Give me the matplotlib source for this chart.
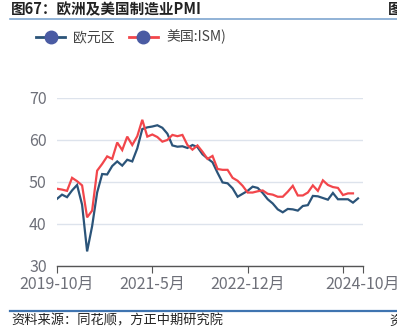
import matplotlib
matplotlib.use('Agg')
import matplotlib.pyplot as plt
from matplotlib.lines import Line2D

plt.rcParams['font.family'] = ['Noto Sans CJK SC', 'DejaVu Sans']

# Monthly PMI, 2019-10 onward
euro = [45.9, 46.9, 46.3, 47.9, 49.2, 44.5, 33.4, 39.4, 47.4, 51.8, 51.7, 53.7,
        54.8, 53.8, 55.2, 54.8, 57.9, 62.5, 62.9, 63.1, 63.4, 62.8, 61.4, 58.6,
        58.3, 58.4, 58.0, 58.7, 58.2, 56.5, 55.5, 54.6, 52.1, 49.8, 49.6, 48.4,
        46.4, 47.1, 47.8, 48.8, 48.5, 47.3, 45.8, 44.8, 43.4, 42.7, 43.5, 43.4,
        43.1, 44.2, 44.4, 46.6, 46.5, 46.1, 45.7, 47.3, 45.8, 45.8, 45.8, 45.0,
        46.0]
ism = [48.3, 48.1, 47.8, 50.9, 50.1, 49.1, 41.5, 43.1, 52.6, 54.2, 56.0, 55.4,
       59.3, 57.5, 60.7, 58.7, 60.8, 64.7, 60.7, 61.2, 60.6, 59.5, 59.9, 61.1,
       60.8, 61.1, 58.7, 57.6, 58.6, 57.1, 55.4, 56.1, 53.0, 52.8, 52.8, 50.9,
       50.2, 49.0, 47.4, 47.4, 47.7, 47.9, 47.1, 46.9, 46.4, 46.4, 47.6, 49.0,
       46.7, 46.7, 47.4, 49.1, 47.8, 50.3, 49.2, 48.7, 48.5, 46.8, 47.2, 47.2]
n_months = 62
tick_pos = [0, 19, 38, 57, 61]
tick_labels = ['2019-10月', '2021-5月', '2022-12月', '', '2024-10月']
yticks = [30, 40, 50, 60, 70]

blue = '#2b5479'
red = '#f2464b'
marker_c = '#4a5ba3'
gray = '#6e7079'

fig = plt.figure(figsize=(3.97, 3.32), dpi=100)
ax = fig.add_axes([0.1436, 0.1997, 0.9144 - 0.1436, 0.7063 - 0.1997])

ax.plot(range(len(euro)), euro, color=blue, lw=1.6, solid_joinstyle='miter')
ax.plot(range(len(ism)), ism, color=red, lw=1.6, solid_joinstyle='miter')

ax.set_xlim(0, n_months - 1)
ax.set_ylim(30, 70)
ax.set_yticks(yticks)
ax.set_xticks(tick_pos)
ax.set_xticklabels(tick_labels)
ax.grid(axis='y', color='#dde3ec', lw=1)
ax.set_axisbelow(True)
for s in ['top', 'right', 'left']:
    ax.spines[s].set_visible(False)
ax.spines['bottom'].set_color('#555555')
ax.spines['bottom'].set_linewidth(1)
ax.tick_params(axis='y', length=0, labelsize=11.5, labelcolor=gray, pad=7.4)
ax.tick_params(axis='x', length=5, color='#555555', labelsize=11.5,
               labelcolor=gray, pad=2.5)

# legend
handles = [Line2D([], [], color=blue, lw=2, marker='o', ms=9,
                  markerfacecolor=marker_c, markeredgecolor=marker_c),
           Line2D([], [], color=red, lw=2, marker='o', ms=9,
                  markerfacecolor=marker_c, markeredgecolor=marker_c)]
fig.legend(handles, ['欧元区', '美国:ISM)'], loc='center left',
           bbox_to_anchor=(0.0907, 0.888), ncol=2, frameon=False,
           fontsize=10, labelcolor='#444444', handlelength=2.1,
           columnspacing=1.0, handletextpad=0.58, borderpad=0,
           borderaxespad=0)

# header / footer
fig.text(0.028, 0.973, '图67：欧洲及美国制造业PMI', fontsize=10.5, fontweight='bold',
         color='#222222', va='center', ha='left')
fig.text(0.978, 0.973, '图', fontsize=10.5, fontweight='bold', color='#222222',
         va='center', ha='left')
fig.add_artist(Line2D([0.025, 1.0], [0.943, 0.943], color='#7ea6d0', lw=1.2))
fig.add_artist(Line2D([0.025, 1.0], [0.063, 0.063], color='#3f74b0', lw=1.6))
fig.text(0.028, 0.033, '资料来源：同花顺，方正中期研究院', fontsize=9.5, style='italic',
         color='#222222', va='center', ha='left')
fig.text(0.982, 0.033, '资', fontsize=9.5, color='#222222', va='center', ha='left')

fig.savefig('out.png', dpi=100)
